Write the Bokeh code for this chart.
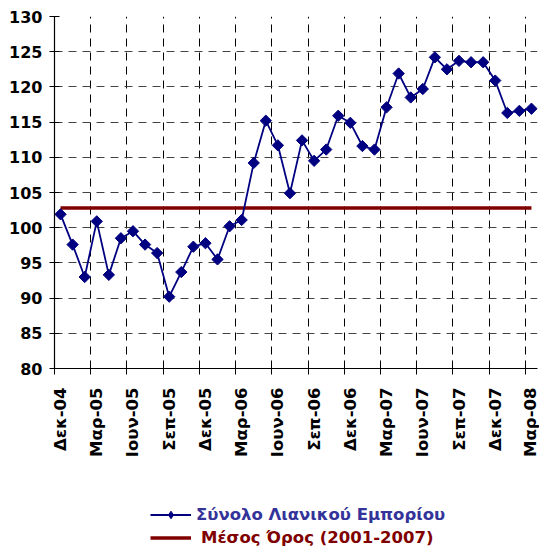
import math
from bokeh.plotting import figure
from bokeh.layouts import column
from bokeh.models import FixedTicker, Legend, LegendItem, ColumnDataSource
from bokeh.embed import file_html
from bokeh.resources import INLINE

# ---- data ----
values = [101.9, 97.6, 93.0, 100.9, 93.3, 98.5, 99.5, 97.6, 96.4, 90.2,
          93.7, 97.3, 97.8, 95.5, 100.2, 101.1, 109.2, 115.2, 111.7, 104.9,
          112.4, 109.5, 111.1, 115.9, 114.9, 111.6, 111.1, 117.1, 121.9, 118.5,
          119.7, 124.2, 122.5, 123.7, 123.5, 123.5, 120.9, 116.3, 116.6, 116.9]
average_value = 102.8
tick_labels = ["Δεκ-04", "Μαρ-05", "Ιουν-05", "Σεπ-05", "Δεκ-05", "Μαρ-06", "Ιουν-06",
               "Σεπ-06", "Δεκ-06", "Μαρ-07", "Ιουν-07", "Σεπ-07", "Δεκ-07", "Μαρ-08"]
label_step = 3
series_name = "Σύνολο Λιανικού Εμπορίου"
avg_name = "Μέσος Όρος (2001-2007)"

SERIES_COLOR = "#000080"
AVG_COLOR = "#800000"

n = len(values)
x = list(range(n))
src = ColumnDataSource(dict(x=x, y=values, avg=[average_value] * n))

FONT = "DejaVu Sans"

p = figure(frame_width=483, frame_height=352, output_backend="svg", toolbar_location=None,
           x_range=(-0.5, n - 0.5), y_range=(80, 130),
           min_border_left=54, min_border_right=2, min_border_top=16,
           min_border_bottom=100)
p.outline_line_color = None
p.background_fill_color = "white"
p.border_fill_color = "white"

# y axis
p.yaxis.ticker = FixedTicker(ticks=list(range(80, 131, 5)))
p.yaxis.major_tick_in = 5
p.yaxis.major_tick_out = 5
p.yaxis.minor_tick_line_color = None
p.yaxis.major_label_standoff = 7
p.yaxis.major_label_text_font = FONT
p.yaxis.major_label_text_font_style = "bold"
p.yaxis.major_label_text_font_size = "16px"
p.yaxis.major_label_text_color = "black"
p.yaxis.axis_line_color = "black"
p.yaxis.axis_line_width = 1.2

# x axis
major = [i * label_step for i in range(len(tick_labels))]
minor = [i * label_step - 0.5 for i in range(len(tick_labels))]
p.xaxis.ticker = FixedTicker(ticks=major, minor_ticks=minor)
p.xaxis.major_label_overrides = {m: lab for m, lab in zip(major, tick_labels)}
p.xaxis.major_tick_in = 0
p.xaxis.major_tick_out = 0
p.xaxis.major_tick_line_color = None
p.xaxis.minor_tick_in = 3
p.xaxis.minor_tick_out = 6
p.xaxis.minor_tick_line_color = "black"
p.xaxis.major_label_orientation = math.pi / 2
p.xaxis.major_label_standoff = 13
p.xaxis.major_label_text_font = FONT
p.xaxis.major_label_text_font_style = "bold"
p.xaxis.major_label_text_font_size = "16.5px"
p.xaxis.major_label_text_color = "black"
p.xaxis.axis_line_color = "black"
p.xaxis.axis_line_width = 1.2

# grids
p.ygrid.grid_line_color = "#444444"
p.ygrid.grid_line_dash = "8 6"
p.ygrid.grid_line_width = 1
p.xgrid.grid_line_color = None
p.xgrid.minor_grid_line_color = "black"
p.xgrid.minor_grid_line_dash = "8 6"
p.xgrid.minor_grid_line_width = 1

# series
p.line("x", "avg", source=src, line_color=AVG_COLOR, line_width=3.5)
p.line("x", "y", source=src, line_color=SERIES_COLOR, line_width=1.8)
p.scatter("x", "y", source=src, marker="square", angle=math.pi / 4,
          size=8, fill_color=SERIES_COLOR, line_color=SERIES_COLOR)

# ---- legend strip (separate figure below the chart; its data lies outside its range) ----
p2 = figure(width=539, height=86, output_backend="svg", toolbar_location=None,
            x_range=(-0.5, n - 0.5), y_range=(0, 1),
            x_axis_location=None, y_axis_location=None,
            min_border_left=0, min_border_right=0, min_border_top=0, min_border_bottom=0)
p2.outline_line_color = None
p2.xgrid.grid_line_color = None
p2.ygrid.grid_line_color = None
l_line = p2.line("x", "y", source=src, line_color=SERIES_COLOR, line_width=1.8)
l_mark = p2.scatter("x", "y", source=src, marker="diamond", size=12,
                    fill_color=SERIES_COLOR, line_color=SERIES_COLOR)
l_avg = p2.line("x", "avg", source=src, line_color=AVG_COLOR, line_width=3.5)

common = dict(margin=0, padding=2, spacing=0,
              glyph_width=41, glyph_height=19, label_height=19,
              label_text_font=FONT, label_text_font_style="bold",
              label_text_font_size="16.5px",
              border_line_color=None, background_fill_alpha=0)
leg1 = Legend(items=[LegendItem(label=series_name, renderers=[l_line, l_mark])],
              location=(96, 30), label_standoff=5, label_text_color="#333399", **common)
leg2 = Legend(items=[LegendItem(label=avg_name, renderers=[l_avg])],
              location=(96, 7), label_standoff=10, label_text_color=AVG_COLOR, **common)
p2.add_layout(leg1, "center")
p2.add_layout(leg2, "center")

layout = column(p, p2, spacing=0)
open("out.html", "w").write(file_html(layout, INLINE))
